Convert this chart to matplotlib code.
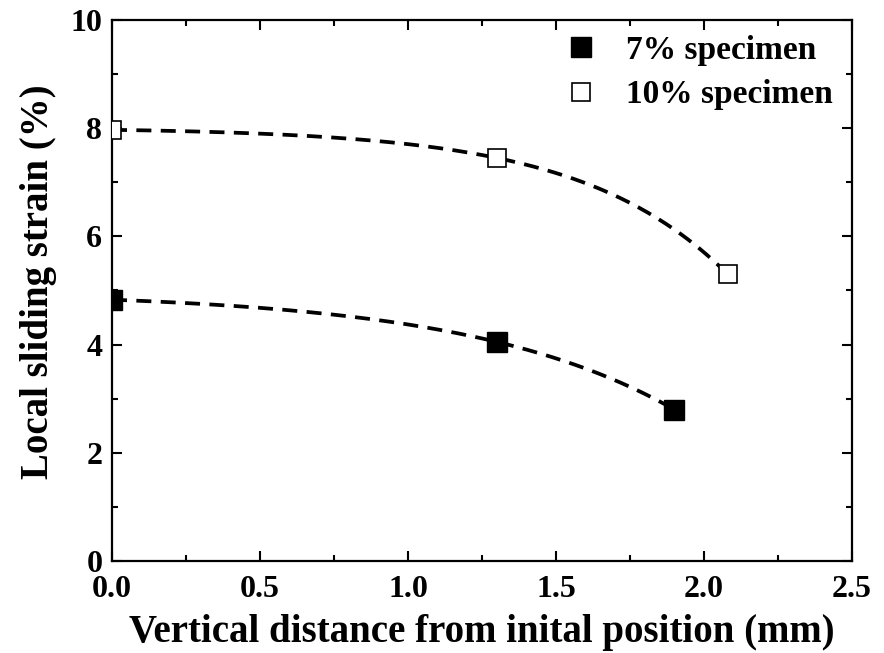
import numpy as np
import matplotlib
matplotlib.use('Agg')
import matplotlib.pyplot as plt
from matplotlib.ticker import MultipleLocator

plt.rcParams['font.family'] = ['Liberation Serif', 'DejaVu Serif']
plt.rcParams['font.weight'] = 'bold'
plt.rcParams['mathtext.default'] = 'regular'

# data
x7 = [0.0, 1.3, 1.9]
y7 = [4.83, 4.05, 2.8]
x10 = [0.0, 1.3, 2.08]
y10 = [7.97, 7.45, 5.3]


def exp_fit(x, y):
    # y = a - b*exp(k*x) through the three points, k by bisection
    x = np.asarray(x); y = np.asarray(y)
    target = (y[0] - y[2]) / (y[0] - y[1])
    def ratio(k):
        return (np.exp(k * x[2]) - 1) / (np.exp(k * x[1]) - 1)
    lo, hi = 1e-4, 10.0
    for _ in range(200):
        mid = 0.5 * (lo + hi)
        if ratio(mid) < target:
            lo = mid
        else:
            hi = mid
    k = 0.5 * (lo + hi)
    b = (y[0] - y[1]) / (np.exp(k * x[1]) - 1)
    a = y[0] + b
    return lambda t: a - b * np.exp(k * t)


fig = plt.figure(figsize=(8.84, 6.53), dpi=100)
ax = fig.add_axes([0.1267, 0.1409, 0.8371, 0.8285])

dash = (0, (4.0, 2.5))
f7 = exp_fit(x7, y7)
t7 = np.linspace(x7[0], x7[-1], 200)
ax.plot(t7, f7(t7), color='black', lw=2.7, linestyle=dash)
f10 = exp_fit(x10, y10)
t10 = np.linspace(x10[0], x10[-1], 200)
ax.plot(t10, f10(t10), color='black', lw=2.7, linestyle=dash)

ax.plot(x7, y7, 's', ms=14.5, mfc='black', mec='black', mew=1, label='7% specimen', zorder=3)
ax.plot(x10, y10, 's', ms=13.5, mfc='white', mec='black', mew=1.2, label='10% specimen', zorder=3)

ax.set_xlim(0, 2.5)
ax.set_ylim(0, 10)
ax.xaxis.set_major_locator(MultipleLocator(0.5))
ax.xaxis.set_minor_locator(MultipleLocator(0.25))
ax.yaxis.set_major_locator(MultipleLocator(2))
ax.yaxis.set_minor_locator(MultipleLocator(1))
ax.xaxis.set_major_formatter(matplotlib.ticker.FormatStrFormatter('%.1f'))

for s in ax.spines.values():
    s.set_linewidth(1.6)
ax.tick_params(which='both', direction='in', top=True, right=True, width=1.5)
ax.tick_params(which='major', length=7.5, labelsize=23)
ax.tick_params(which='minor', length=4.5)
ax.tick_params(axis='x', pad=10)
ax.tick_params(axis='y', pad=7)

ax.set_xlabel('Vertical distance from inital position (mm)', fontsize=28, fontweight='bold', labelpad=7)
ax.set_ylabel('Local sliding strain (%)', fontsize=28, fontweight='bold')
ax.yaxis.set_label_coords(-0.074, 0.516)

ax.legend(loc='upper left', bbox_to_anchor=(0.611, 0.972), frameon=False, fontsize=24,
          handlelength=1.0, handletextpad=0.85, borderpad=0, borderaxespad=0,
          labelspacing=0.4, numpoints=1)

fig.savefig('out.png', dpi=100)
